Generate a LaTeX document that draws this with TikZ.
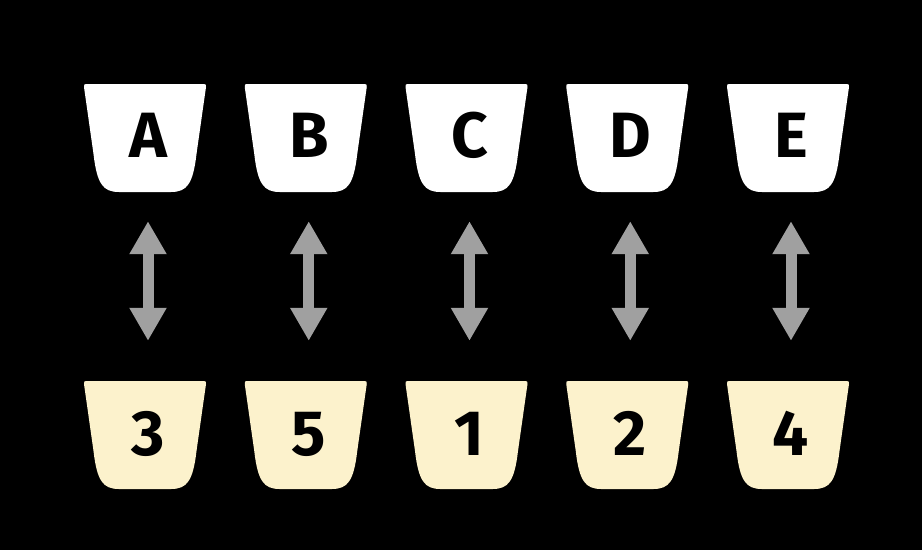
\documentclass[tikz,border=0pt]{standalone}
\usepackage{fontspec}
\setmainfont{Fira Sans}
\usetikzlibrary{arrows.meta}
\definecolor{cream}{HTML}{FCF2CC}
\definecolor{arrowgray}{HTML}{A0A0A0}
\newcommand\cupshape[3]{%
  \fill[#3] ({#1-61},{#2+3}) .. controls ({#1-61},{#2}) .. ({#1-58},{#2})
    -- ({#1+58},{#2}) .. controls ({#1+61},{#2}) .. ({#1+61},{#2+3})
    -- ({#1+51.5},{#2+70}) .. controls ({#1+48},{#2+100}) and ({#1+42},{#2+108}) .. ({#1+26},{#2+108})
    -- ({#1-26},{#2+108}) .. controls ({#1-42},{#2+108}) and ({#1-48},{#2+100}) .. ({#1-51.5},{#2+70})
    -- cycle;}
\begin{document}
\begin{tikzpicture}[x=1pt,y=-1pt,
  lab/.style={font=\fontsize{64}{64}\selectfont\bfseries, text=black, inner sep=0pt, anchor=base},
  cupbox/.style={minimum width=122pt, minimum height=108pt, inner sep=0pt},
  swap/.style={draw=arrowgray, line width=11pt,
    {Triangle[width=35pt,length=33pt]}-{Triangle[width=35pt,length=33pt]},
    shorten <=29pt, shorten >=40pt}]
\fill[black] (0,0) rectangle (922,550);
\useasboundingbox (0,0) rectangle (922,550);
\foreach \i/\t/\b in {0/A/3,1/B/5,2/C/1,3/D/2,4/E/4}{
  \pgfmathsetmacro\cx{145+160.75*\i}
  \cupshape{\cx}{84}{white}
  \cupshape{\cx}{381}{cream}
  \node[cupbox] (top\t) at (\cx,138) {};
  \node[cupbox] (bot\t) at (\cx,435) {};
  \node[lab] (lt\t) at ({\cx+3},157.5) {\t};
  \node[lab] (lb\t) at ({\cx+3},455.5) {\b};
  \draw[swap] ([xshift=3pt]top\t.south) -- ([xshift=3pt]bot\t.north);
}
\end{tikzpicture}
\end{document}
